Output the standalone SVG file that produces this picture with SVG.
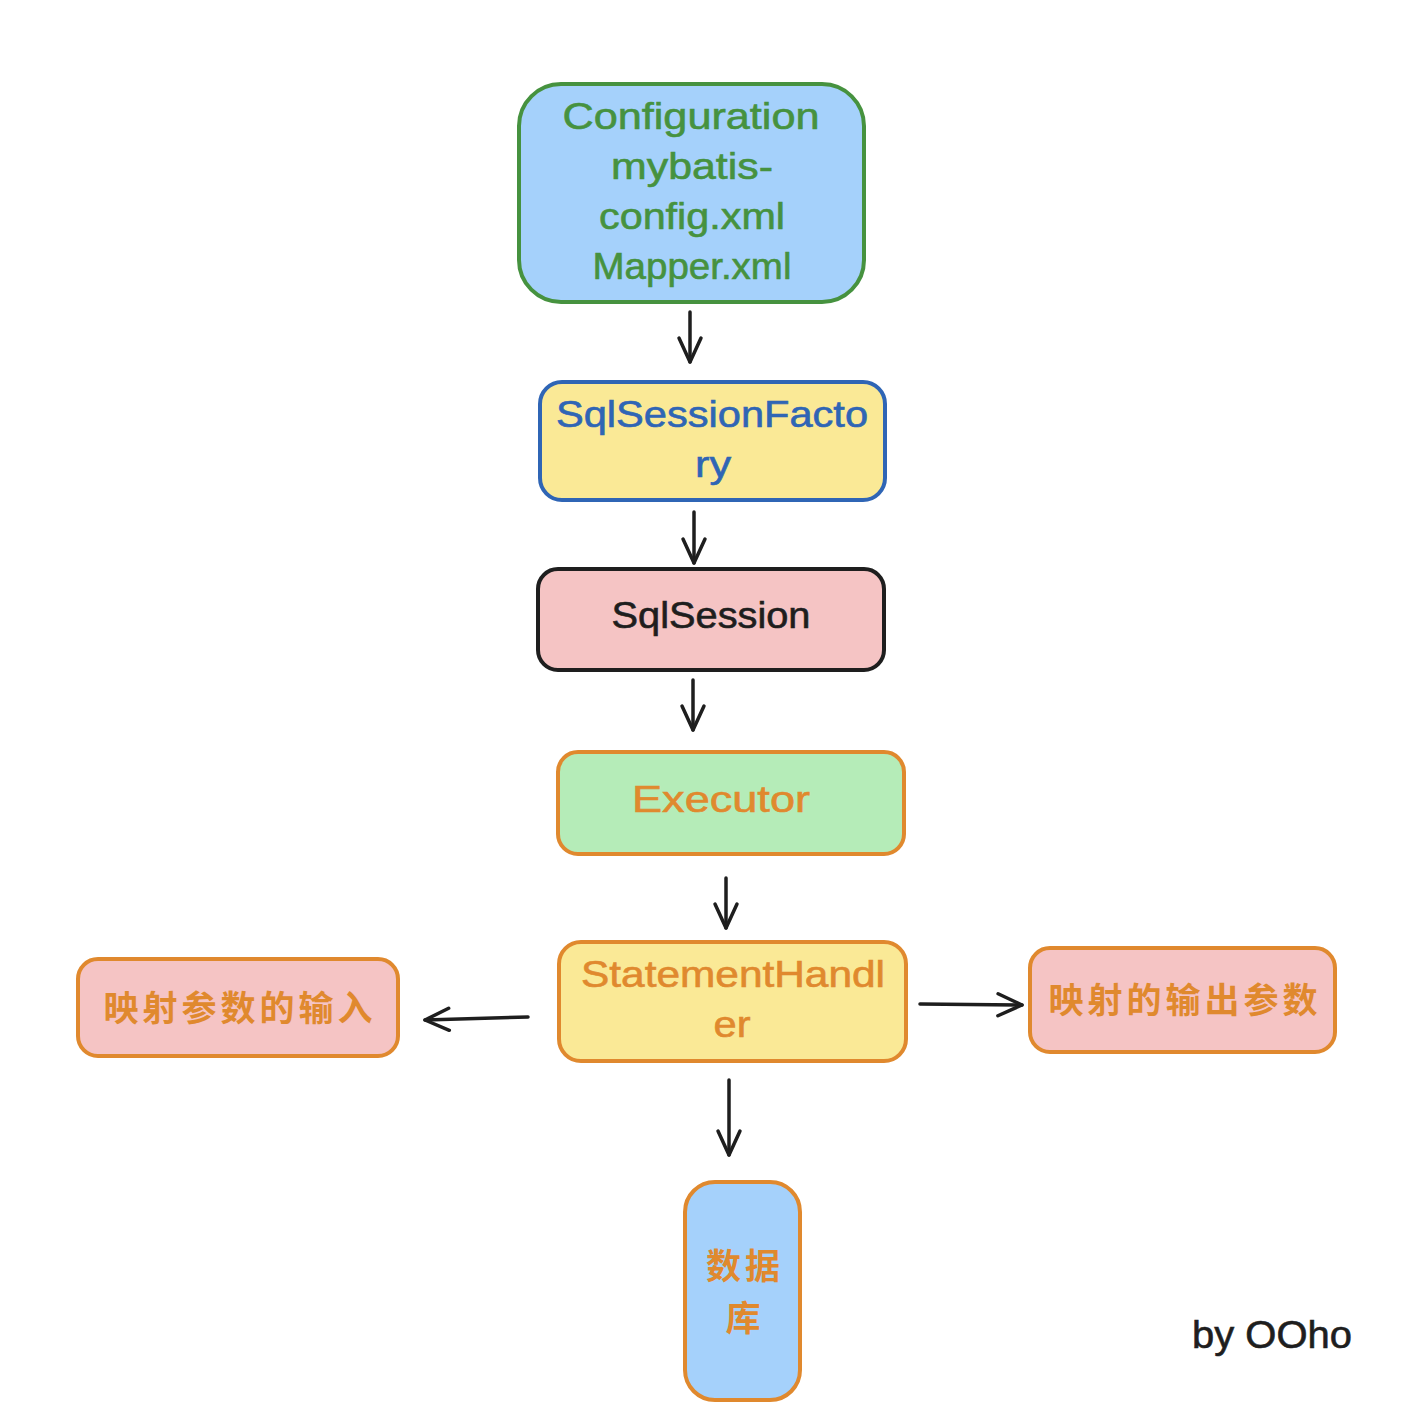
<svg xmlns="http://www.w3.org/2000/svg" width="1408" height="1412" viewBox="0 0 1408 1412">
<defs>
<style>
.lat{font-family:"Liberation Sans","Noto Sans",sans-serif;font-size:36px;text-anchor:middle;stroke-width:0.6}
.cjk{font-family:"Noto Sans CJK SC",sans-serif;font-size:35px;font-weight:700;text-anchor:middle;dominant-baseline:central;fill:#e0892e}
.box{stroke-width:4;stroke-linejoin:round}
.org{stroke:#e0892e}
.conn{stroke:#1e1e1e;stroke-width:3.5;fill:none;stroke-linecap:round}
</style>
<marker id="ah" viewBox="-28 -16 32 32" markerWidth="32" markerHeight="32" refX="0" refY="0" orient="auto" markerUnits="userSpaceOnUse">
<path d="M-24,-11 L0,0 L-24,11" fill="none" stroke="#1e1e1e" stroke-width="3.5" stroke-linecap="round" stroke-linejoin="round"/>
</marker>
</defs>
<rect width="1408" height="1412" fill="#ffffff"/>

<g id="configuration">
<rect class="box" x="519" y="84" width="345" height="218" rx="42" fill="#a5d1fb" stroke="#46923f"/>
<g class="lat" fill="#46923f" stroke="#46923f">
<text x="691" y="129" textLength="257" lengthAdjust="spacingAndGlyphs">Configuration</text>
<text x="692" y="179" textLength="162" lengthAdjust="spacingAndGlyphs">mybatis-</text>
<text x="692" y="229" textLength="186" lengthAdjust="spacingAndGlyphs">config.xml</text>
<text x="692" y="279" textLength="199" lengthAdjust="spacingAndGlyphs">Mapper.xml</text>
</g>
</g>

<g id="sqlsessionfactory">
<rect class="box" x="540" y="382" width="345" height="118" rx="22" fill="#fae996" stroke="#2f65b5"/>
<g class="lat" fill="#2f65b5" stroke="#2f65b5">
<text x="712" y="427" textLength="312" lengthAdjust="spacingAndGlyphs">SqlSessionFacto</text>
<text x="713" y="477" textLength="36" lengthAdjust="spacingAndGlyphs">ry</text>
</g>
</g>

<g id="sqlsession">
<rect class="box" x="538" y="569" width="346" height="101" rx="20" fill="#f5c4c4" stroke="#1e1e1e"/>
<text class="lat" x="711" y="628" fill="#1e1e1e" stroke="#1e1e1e" textLength="199" lengthAdjust="spacingAndGlyphs">SqlSession</text>
</g>

<g id="executor">
<rect class="box org" x="558" y="752" width="346" height="102" rx="20" fill="#b5ecb8"/>
<text class="lat" x="721" y="812" fill="#e0892e" stroke="#e0892e" textLength="178" lengthAdjust="spacingAndGlyphs">Executor</text>
</g>

<g id="statementhandler">
<rect class="box org" x="559" y="942" width="347" height="119" rx="22" fill="#fae996"/>
<g class="lat" fill="#e0892e" stroke="#e0892e">
<text x="733" y="987" textLength="304" lengthAdjust="spacingAndGlyphs">StatementHandl</text>
<text x="732" y="1037" textLength="37" lengthAdjust="spacingAndGlyphs">er</text>
</g>
</g>

<g id="input-params">
<rect class="box org" x="78" y="959" width="320" height="97" rx="20" fill="#f5c4c4"/>
<text class="cjk" x="240" y="1005" letter-spacing="4">映射参数的输入</text>
</g>

<g id="output-params">
<rect class="box org" x="1030" y="948" width="305" height="104" rx="20" fill="#f5c4c4"/>
<text class="cjk" x="1185" y="997" letter-spacing="4">映射的输出参数</text>
</g>

<g id="database">
<rect class="box org" x="685" y="1182" width="115" height="218" rx="30" fill="#a5d1fb"/>
<text class="cjk" x="745" y="1263" letter-spacing="4">数据</text>
<text class="cjk" x="743" y="1315">库</text>
</g>

<g id="credit">
<text x="1272" y="1348" font-family="Liberation Sans, Noto Sans, sans-serif" font-size="38" text-anchor="middle" fill="#1e1e1e" stroke="#1e1e1e" stroke-width="0.6" textLength="160" lengthAdjust="spacingAndGlyphs">by OOho</text>
</g>

<g id="connectors">
<path class="conn" d="M690,312 L690,362" marker-end="url(#ah)"/>
<path class="conn" d="M694,512 L694,563" marker-end="url(#ah)"/>
<path class="conn" d="M693,680 L693,730" marker-end="url(#ah)"/>
<path class="conn" d="M726,878 L726,928" marker-end="url(#ah)"/>
<path class="conn" d="M528,1017 L425,1020" marker-end="url(#ah)"/>
<path class="conn" d="M920,1004 L1022,1005" marker-end="url(#ah)"/>
<path class="conn" d="M729,1080 L729,1155" marker-end="url(#ah)"/>
</g>
</svg>
